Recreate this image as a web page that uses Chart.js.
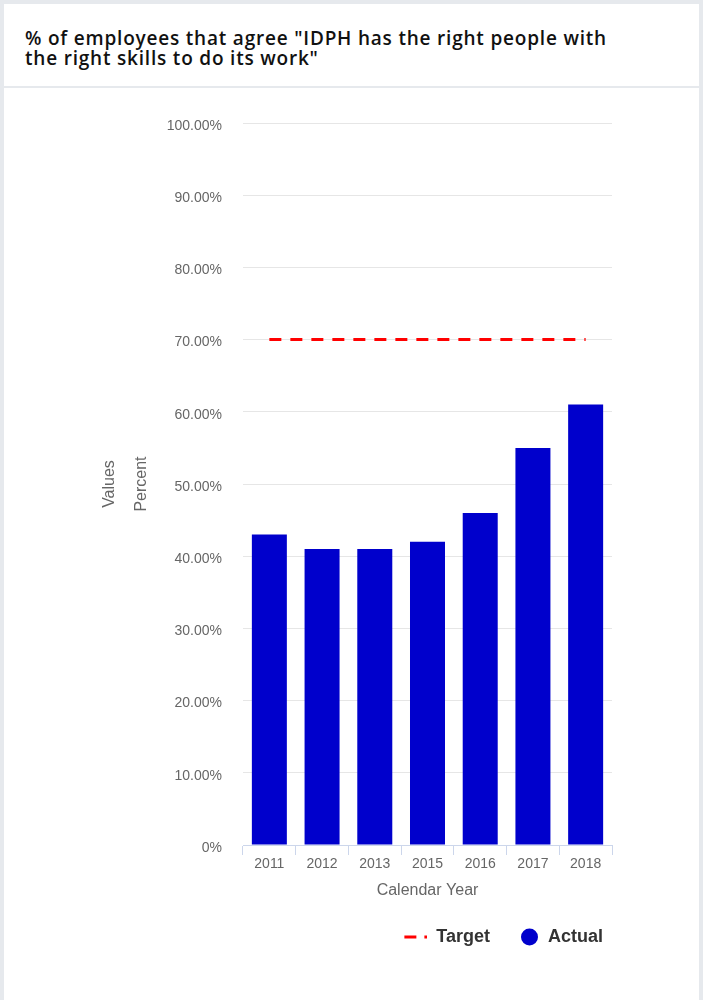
<!DOCTYPE html>
<html>
<head>
<meta charset="utf-8">
<script src="https://cdn.jsdelivr.net/npm/chart.js@4/dist/chart.umd.min.js"></script>
<style>
  html, body { margin: 0; padding: 0; background: #fff; }
  .frame { width: 695px; height: 996px; border: 4px solid #e6e9ed; border-bottom: 0; }
  .title { height: 44px; padding: 24px 80px 14px 21px; border-bottom: 2px solid #e6e9ed;
           font-family: "Open Sans", sans-serif; font-weight: 600; font-size: 19px; letter-spacing: 0.8px;
           line-height: 20px; color: #111; }
  .box { position: relative; width: 695px; height: 912px; }
</style>
</head>
<body>
<div class="frame">
  <div class="title">% of employees that agree "IDPH has the right people with the right skills to do its work"</div>
  <div class="box"><canvas id="chart"></canvas></div>
</div>
<script>
const years = ['2011', '2012', '2013', '2015', '2016', '2017', '2018'];
const actual = [43, 41, 41, 42, 46, 55, 61];
const target = [70, 70, 70, 70, 70, 70, 70];

const axisFont = { family: '"Liberation Sans", Arial, sans-serif', size: 14 };

// legend symbols
function targetSymbol() {
	const c = document.createElement('canvas');
	c.width = 40; c.height = 6;
	const g = c.getContext('2d');
	g.strokeStyle = '#ff0000';
	g.lineWidth = 3;
	g.setLineDash([12, 8]);
	g.beginPath();
	g.moveTo(17, 3);
	g.lineTo(40, 3);
	g.stroke();
	return c;
}
function actualSymbol() {
	const c = document.createElement('canvas');
	c.width = 40; c.height = 20;
	const g = c.getContext('2d');
	g.fillStyle = '#0000cc';
	g.beginPath();
	g.arc(30.5, 10, 8.5, 0, Math.PI * 2);
	g.fill();
	return c;
}
const symbols = [targetSymbol(), actualSymbol()];

new Chart(document.getElementById('chart'), {
	type: 'bar',
	data: {
		labels: years,
		datasets: [{
			type: 'line',
			label: 'Target',
			data: target,
			borderColor: '#ff0000',
			borderWidth: 3,
			borderDash: [12, 9],
			pointRadius: 0,
			fill: false
		}, {
			label: 'Actual',
			data: actual,
			backgroundColor: '#0000cc',
			barPercentage: 1,
			categoryPercentage: 0.664
		}]
	},
	options: {
		responsive: true,
		maintainAspectRatio: false,
		animation: false,
		layout: { padding: { left: 0, right: 87, top: 35, bottom: 44 } },
		plugins: {
			tooltip: { enabled: false },
			legend: {
				position: 'bottom',
				align: 'end',
				labels: {
					usePointStyle: true,
					pointStyleWidth: 40,
					padding: 9,
					color: '#333333',
					font: { family: '"Liberation Sans", Arial, sans-serif', size: 18, weight: 'bold' },
					generateLabels: function(chart) {
						const items = Chart.defaults.plugins.legend.labels.generateLabels(chart);
						items.forEach((it, i) => { it.pointStyle = symbols[i]; });
						return items;
					}
				}
			}
		},
		scales: {
			x: {
				grid: { display: true, drawOnChartArea: false, drawTicks: true, tickLength: 10, color: '#ccd6eb' },
				border: { display: true, color: '#ccd6eb' },
				ticks: { color: '#666666', font: axisFont, padding: 1 },
				title: {
					display: true,
					text: 'Calendar Year',
					color: '#666666',
					font: { family: '"Liberation Sans", Arial, sans-serif', size: 16 },
					padding: { top: 7, bottom: 19 }
				}
			},
			y: {
				min: 0,
				max: 100,
				afterFit: function(scale) { scale.width = 239; },
				grid: { color: '#e6e6e6', drawTicks: false },
				border: { display: false },
				ticks: {
					stepSize: 10,
					padding: 21,
					labelOffset: 3,
					color: '#666666',
					font: axisFont,
					callback: v => v === 0 ? '0%' : v.toFixed(2) + '%'
				},
				title: {
					display: true,
					text: ['Values', 'Percent'],
					color: '#666666',
					font: { family: '"Liberation Sans", Arial, sans-serif', size: 16, lineHeight: 2 },
					padding: { top: 90, bottom: 0 }
				}
			}
		}
	}
});
</script>
</body>
</html>
